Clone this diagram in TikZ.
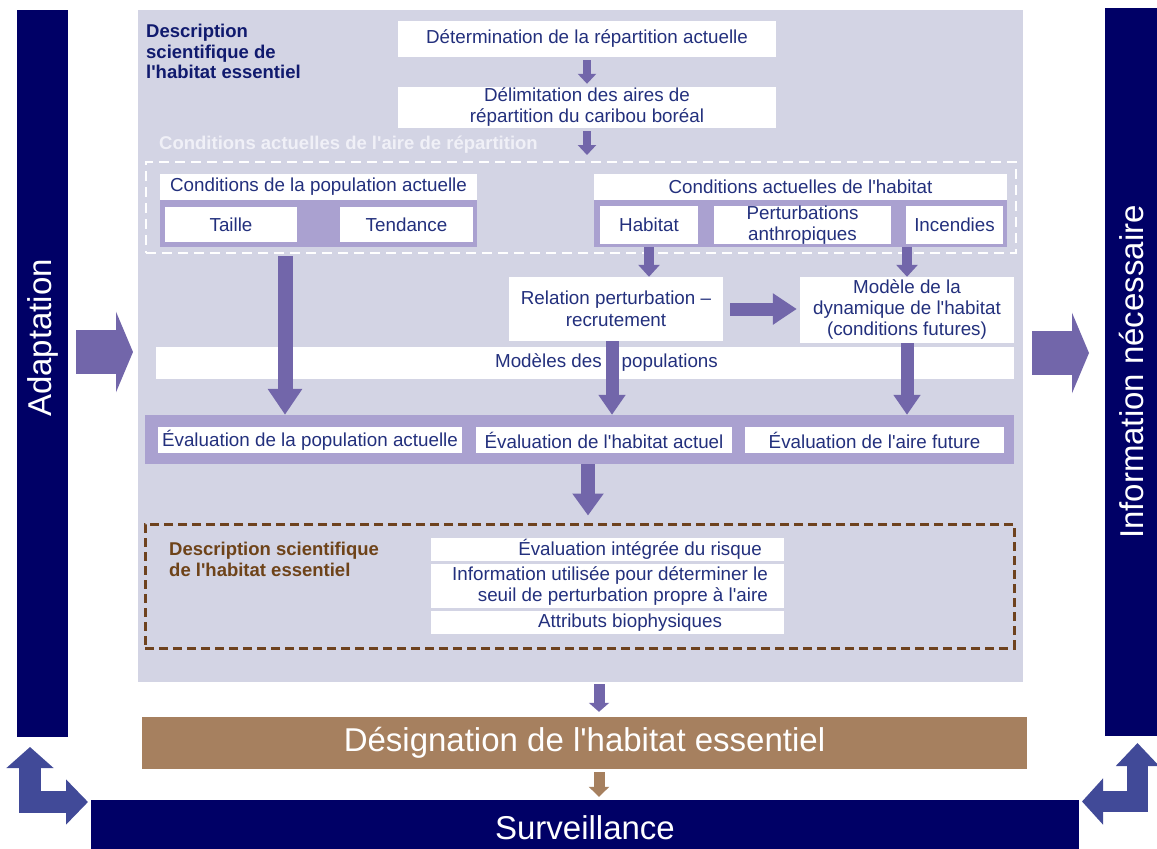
\documentclass[tikz,border=0pt]{standalone}
\usepackage{fontspec}
\setmainfont{Liberation Sans}[Ligatures=TeXOff]
\usetikzlibrary{arrows.meta}
\definecolor{navy}{HTML}{000066}
\definecolor{panel}{HTML}{D3D4E4}
\definecolor{band}{HTML}{AAA1D0}
\definecolor{arrowc}{HTML}{7266AA}
\definecolor{txt}{HTML}{23307D}
\definecolor{ttl}{HTML}{101A6E}
\definecolor{condtxt}{HTML}{F0F0F7}
\definecolor{brownbar}{HTML}{A6805F}
\definecolor{browndash}{HTML}{6E421E}
\definecolor{browntxt}{HTML}{6E4319}
\definecolor{cornerc}{HTML}{414A98}
\newcommand{\bxfont}{\fontsize{18.8}{21}\selectfont}
\newcommand{\ttlfont}{\fontsize{18.5}{20.5}\selectfont\bfseries}
\newcommand{\lgfont}{\fontsize{33}{36}\selectfont}
\begin{document}
\begin{tikzpicture}[x=1pt,y=-1pt,
  box/.style={fill=white, inner sep=0pt, text=txt, font=\bxfont, align=center},
  lbl/.style={inner sep=0pt, text=txt, font=\bxfont},
  bandbox/.style={fill=band, inner sep=0pt},
  navybar/.style={fill=navy, inner sep=0pt},
  biglbl/.style={inner sep=0pt, text=white, font=\lgfont},
  blk/.style args={#1/#2/#3}{draw=arrowc, line width=#1, -{Triangle[width=#2,length=#3]}},
  cornerarrow/.style={draw=cornerc}
]
\useasboundingbox (0,0) rectangle (1157,849);
\fill[white] (0,0) rectangle (1157,849);

% main panel and side bars
\node[fill=panel, inner sep=0pt, minimum width=885pt, minimum height=672pt] (panel) at (580.5,346) {};
\node[navybar, minimum width=51pt, minimum height=727pt] (adaptbar) at (42.5,373.5) {};
\node[biglbl, rotate=90] (adaptlbl) at (43,338) {Adaptation};
\node[navybar, minimum width=52pt, minimum height=728pt] (infobar) at (1131,372) {};
\node[biglbl, rotate=90] (infolbl) at (1131,372) {Information nécessaire};

% title
\node[anchor=north west, inner sep=0pt, align=left, text=ttl, font=\ttlfont] (title) at (146,24) {Description\\scientifique de\\l'habitat essentiel};

% top boxes
\node[box, minimum width=378pt, minimum height=36pt] (det) at (587,39) {Détermination de la répartition actuelle};
\node[box, minimum width=378pt, minimum height=41pt] (delim) at (587,107.5) {Délimitation des aires de\\répartition du caribou boréal};

\node[anchor=west, inner sep=0pt, text=condtxt, font=\ttlfont] (condlbl) at (159,145) {Conditions actuelles de l'aire de répartition};
\node[draw=white, dash pattern=on 10pt off 6pt, line width=2.8pt, inner sep=0pt, minimum width=870pt, minimum height=91pt] (dashw) at (581,207.5) {};

% left group
\node[bandbox, minimum width=317pt, minimum height=73pt] (lband) at (318.5,210.5) {};
\node[box, minimum width=317pt, minimum height=26pt] (lhead) at (318.5,187) {Conditions de la population actuelle};
\node[box, minimum width=132pt, minimum height=35pt] (taille) at (231,224.5) {Taille};
\node[box, minimum width=133pt, minimum height=35pt] (tendance) at (406.5,224.5) {Tendance};

% right group
\node[bandbox, minimum width=413pt, minimum height=73pt] (rband) at (800.5,210.5) {};
\node[box, minimum width=413pt, minimum height=26pt] (rhead) at (800.5,187) {Conditions actuelles de l'habitat};
\node[box, minimum width=98pt, minimum height=38pt] (habitat) at (649,225) {Habitat};
\node[box, minimum width=177pt, minimum height=38pt] (pert) at (802.5,225) {Perturbations\\anthropiques};
\node[box, minimum width=97pt, minimum height=38pt] (incend) at (954.5,225) {Incendies};

% middle
\node[box, minimum width=214pt, minimum height=64pt, font=\fontsize{18.8}{22}\selectfont] (relation) at (616,309) {Relation perturbation –\\recrutement};
\node[box, minimum width=214pt, minimum height=66pt] (model) at (907,310) {Modèle de la\\dynamique de l'habitat\\(conditions futures)};
\node[box, minimum width=858pt, minimum height=32pt] (modpop) at (585,363) {};
\node[lbl] (modlbl) at (606.5,363) {Modèles des\hspace{20pt}populations};

% evaluation band
\node[bandbox, minimum width=869pt, minimum height=49pt] (evalband) at (579.5,439.5) {};
\node[box, minimum width=304pt, minimum height=26pt] (evpop) at (310,440) {Évaluation de la population actuelle};
\node[box, minimum width=256pt, minimum height=26pt] (evhab) at (604,440) {Évaluation de l'habitat actuel};
\node[box, minimum width=259pt, minimum height=26pt] (evaire) at (874.5,440) {Évaluation de l'aire future};

% brown dashed description
\node[draw=browndash, dash pattern=on 9pt off 5pt, line width=3pt, inner sep=0pt, minimum width=869pt, minimum height=124pt] (dashb) at (579.5,586) {};
\node[anchor=north west, inner sep=0pt, align=left, text=browntxt, font=\ttlfont] (bdesc) at (169,542) {Description scientifique\\de l'habitat essentiel};
\node[box, minimum width=353pt, minimum height=23pt] (risk) at (607.5,549.5) {};
\node[lbl, anchor=east] (risklbl) at (762,549.5) {Évaluation intégrée du risque};
\node[box, minimum width=353pt, minimum height=44pt] (info) at (607.5,586) {};
\node[lbl, anchor=east, align=right] (infolbl2) at (768,586) {Information utilisée pour déterminer le\\seuil de perturbation propre à l'aire};
\node[box, minimum width=353pt, minimum height=23pt] (attr) at (607.5,622.5) {};
\node[lbl] (attrlbl) at (630,622.5) {Attributs biophysiques};

% bottom bars
\node[fill=brownbar, inner sep=0pt, minimum width=885pt, minimum height=52pt, text=white, font=\lgfont] (design) at (584.5,743) {Désignation de l'habitat essentiel};
\node[navybar, minimum width=988pt, minimum height=55pt, text=white, font=\lgfont] (surv) at (585,827.5) {Surveillance};

% arrows
\draw[blk=8.5pt/18pt/10pt] ([yshift=-3pt]det.south) -- ([yshift=3pt]delim.north);
\coordinate (a2end) at (587,155);
\draw[blk=8.5pt/18pt/10pt] ([yshift=-3pt]delim.south) -- (a2end);

\coordinate (la1) at (285,256);
\draw[blk=15pt/33pt/26pt] (la1) -- (la1 |- evalband.north);

\draw[blk=10pt/21pt/12pt] (rband.south -| habitat.south) -- (habitat.south |- relation.north);
\draw[blk=10pt/21pt/12pt] (rband.south -| model.north) -- (model.north);
\draw[blk=13pt/30pt/24pt] ([xshift=7pt]relation.east) -- ([xshift=-3pt]relation.east -| model.west);
\draw[blk=13pt/26pt/20pt] ([xshift=-4pt]relation.south) -- ([xshift=-4pt]relation.south |- evalband.north);
\draw[blk=13pt/26pt/20pt] (model.south) -- (model.south |- evalband.north);

\coordinate (ea) at (588,464);
\draw[blk=14pt/30pt/22pt] (ea) -- ([yshift=7pt]ea |- dashb.north);

\coordinate (pa) at (599,684);
\draw[blk=11pt/20pt/9pt] (pa) -- ([yshift=5pt]pa |- design.north);
\coordinate (ba) at (599,772);
\draw[blk=11pt/20pt/10pt, draw=brownbar] (ba) -- ([yshift=3pt]ba |- surv.north);

% side arrows
\coordinate (ad1) at (76,352);
\coordinate (ad2) at (133,352);
\draw[blk=44pt/80pt/17pt] (ad1) -- (ad2);
\coordinate (in1) at (1032,353);
\coordinate (in2) at (1089,353);
\draw[blk=44pt/80pt/17pt] (in1) -- (in2);

% corner arrows
\coordinate (cl1) at (30,747);
\coordinate (cl2) at (88,802);
\draw[cornerarrow, line width=22pt, {Triangle[width=46pt,length=21pt]}-{Triangle[width=44pt,length=22pt]}] (cl1) |- (cl2);
\coordinate (cr1) at (1137.5,743);
\coordinate (cr2) at (1082,801.5);
\draw[cornerarrow, line width=21pt, {Triangle[width=42pt,length=23pt]}-{Triangle[width=45pt,length=21pt]}] (cr1) |- (cr2);
\end{tikzpicture}
\end{document}
